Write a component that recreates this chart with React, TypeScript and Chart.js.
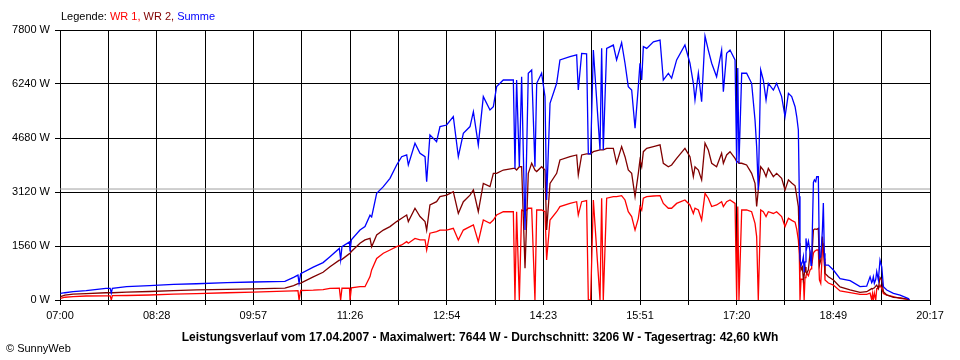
import React, { useEffect, useRef } from 'react';
import { Chart, registerables } from 'chart.js';

Chart.register(...registerables);

// Time axis: minutes after 07:00
const minutesAfterSeven = [
  0.5, 4.5, 12, 24, 42, 46, 47, 48, 61, 82, 104, 125, 153, 177, 206, 214, 218, 219, 220.5, 232, 241,
  247.3, 255.9, 257.1, 258.3, 265.2, 265.7, 266.9, 274.8, 279.4, 284.0, 285.5, 290.1, 296.2, 302.3,
  308.4, 313.0, 317.6, 319.1, 325.2, 329.8, 334.4, 335.9, 338.9, 345.0, 348.1, 354.2, 360.3, 364.9,
  369.5, 375.6, 378.7, 383.2, 387.8, 393.9, 397.0, 400.0, 406.1, 415.3, 416.8, 418.3, 420.8, 422.9,
  426.0, 429.0, 432.1, 435.1, 436.7, 441.2, 444.3, 445.8, 448.9, 455.0, 458.0, 467.2, 473.3, 474.8,
  477.9, 482.4, 484.0, 486.1, 488.6, 494.7, 496.2, 497.7, 500.8, 506.9, 509.9, 514.5, 517.6, 520.6,
  523.7, 526.8, 529.8, 531.3, 532.9, 534.4, 537.5, 543.6, 549.7, 552.7, 557.3, 560.3, 564.9, 572.5,
  577.1, 580.2, 581.7, 584.8, 587.8, 590.9, 593.9, 597.0, 601.5, 606.1, 607.7, 610.7, 613.8, 618.4,
  619.9, 620.9, 622.0, 624.5, 629.0, 633.6, 636.7, 638.2, 639.7, 641.9, 644.3, 646.8, 648.9, 653.5,
  656.5, 661.1, 664.2, 667.3, 670.3, 673.4, 674.9, 676.4, 677.3, 677.9, 678.9, 680.1, 681.0, 681.7,
  682.5, 683.4, 684.1, 685.6, 687.1, 688.0, 688.6, 690.2, 691.1, 692.3, 693.2, 694.7, 695.7, 696.9,
  698.4, 699.3, 700.2, 700.8, 703.9, 708.5, 714.6, 723.8, 732.9, 739.0, 742.1, 743.6, 744.3, 745.1,
  746.0, 747.3, 748.2, 749.7, 751.2, 752.8, 754.3, 757.4, 763.5, 769.6, 777.2, 778.1,
];

const wr1Watts = [
  50, 80, 95, 115, 120, 120, 0, 125, 130, 145, 170, 185, 210, 230, 255, 265, 270, 0, 275, 285, 300,
  335, 340, 0, 340, 345, 0, 350, 385, 385, 675, 870, 1200, 1350, 1445,
  1540, 1590, 1685, 1640, 1780, 1735, 1735, 1445, 1930, 1975, 2020, 2020, 2070, 1735,
  2020, 2120, 2170, 1685, 2310, 2215, 2310, 2455, 2550, 2550, 0, 2550, 0, 2600,
  2550, 2650, 2650, 0, 2600, 2600, 2550, 1155, 2310, 2550, 2700, 2790, 2840, 2455,
  2840, 2870, 0, 0, 2890, 0, 2940, 0, 2940, 2985, 2985, 3015, 2890, 2550,
  2410, 2020, 2360, 2700, 2600, 2940, 2985, 3005, 3015, 2790, 2650, 2650, 2790, 2890,
  2745, 2500, 2650, 2600, 2310, 3080, 2940, 2700, 2745, 2840, 2700, 2840, 2890, 2790,
  0, 2700, 0, 2600, 2600, 2550, 2215, 1830, 0, 2600, 2550, 2410, 2550, 2500,
  2550, 2410, 2120, 2360, 2300, 2250, 2050, 1730, 1300, 0, 600, 600, 600, 0,
  650, 700, 770, 700, 867, 900, 1000, 1350, 1400, 1430, 1445, 1445, 580, 480,
  1400, 1640, 1200, 578, 490, 430, 260, 210, 165, 165, 200, 0, 180, 0,
  200, 0, 330, 330, 430, 330, 190, 140, 100, 50, 20, 0,
];

const wr2Watts = [
  100, 140, 170, 185, 210, 210, 210, 210, 225, 245, 270, 290, 305, 320, 345, 414, 470, 475, 490, 670, 800,
  960, 1150, 1160, 1175, 1340, 1350, 1400, 1640, 1735, 1780, 1540, 1880, 2020, 2120,
  2265, 2360, 2455, 2265, 2650, 2410, 2265, 2020, 2745, 2840, 2985, 3030, 3130, 2500,
  2840, 3030, 3180, 2550, 3370, 3275, 3660, 3660, 3755, 3800, 3800, 3755, 3850, 3850,
  915, 3660, 3950, 3755, 3710, 3850, 3755, 2020, 3370, 3660, 4045, 4140, 4190, 3610,
  4190, 4220, 4220, 4220, 4285, 4335, 4335, 4335, 4380, 4380, 3950, 4430, 4140, 3755,
  3660, 2985, 3660, 4045, 3850, 4285, 4380, 4430, 4480, 3950, 3850, 3900, 4090, 4380,
  4140, 3565, 3850, 3755, 3470, 4530, 4335, 3950, 3850, 4240, 3950, 4190, 4285, 4090,
  4000, 4000, 3950, 3950, 3900, 3660, 3370, 2700, 3180, 3850, 3755, 3565, 3800, 3565,
  3660, 3515, 3180, 3470, 3380, 3300, 3000, 2700, 1640, 1200, 870, 950, 580, 700,
  950, 800, 770, 870, 1350, 1200, 1150, 2020, 2050, 2050, 2040, 2070, 1000, 1150,
  1830, 1500, 1100, 770, 670, 578, 380, 290, 220, 240, 300, 330, 320, 340,
  350, 400, 430, 330, 650, 580, 240, 145, 75, 60, 20, 0,
];

const summeWatts = [
  190, 210, 240, 270, 335, 335, 200, 340, 385, 415, 450, 470, 500, 520, 540, 655, 720, 490, 760, 950, 1080,
  1250, 1490, 1160, 1540, 1680, 1400, 1740, 2020, 2120, 2450, 2400, 3080, 3275, 3515,
  3900, 4140, 4190, 3900, 4530, 4240, 4140, 3420, 4770, 4575, 5010, 5055, 5300, 4140,
  4815, 5010, 5440, 4480, 5875, 5490, 5585, 6165, 6355, 6355, 3800, 6355, 3850, 6450,
  2020, 6550, 6645, 3850, 6260, 6550, 5875, 2890, 5680, 6260, 6935, 7030, 7080, 6065,
  7125, 7110, 4220, 4220, 7220, 4335, 7270, 4335, 7270, 7365, 6935, 7435, 6840, 6165,
  6065, 4960, 6165, 6840, 6355, 7320, 7270, 7460, 7510, 6355, 6550, 6405, 6935, 7365,
  6840, 6260, 5780, 6550, 5730, 7625, 7220, 6840, 6450, 7220, 6020, 7130, 7220, 6935,
  3950, 6700, 3950, 6550, 6550, 6260, 5200, 4430, 3180, 6645, 6355, 5780, 6260, 6065,
  6260, 5875, 5300, 5970, 5875, 5585, 5300, 4910, 3000, 1200, 1000, 1100, 1250, 800,
  1100, 1780, 1500, 1700, 1400, 1000, 1155, 3400, 3470, 3420, 3560, 3560, 1200, 1250,
  2000, 2800, 1350, 1010, 1010, 867, 620, 560, 385, 400, 670, 500, 550, 670,
  480, 600, 820, 580, 1155, 960, 385, 290, 190, 140, 40, 10,
];

const averageWatts = 3206;
const xAxisEndMinutes = 797; // 07:00 .. 20:17
const xTickLabels = ['07:00', '08:28', '09:57', '11:26', '12:54', '14:23', '15:51', '17:20', '18:49', '20:17'];
const yTickValues = [0, 1560, 3120, 4680, 6240, 7800];

const legendLabel = 'Legende: ';
const legendNames = ['WR 1, ', 'WR 2, ', 'Summe'];
const legendColors = ['#ff0000', '#800000', '#0000ff'];
const titleText =
  'Leistungsverlauf vom 17.04.2007 - Maximalwert: 7644 W - Durchschnitt: 3206 W - Tagesertrag: 42,60 kWh';
const creditText = '\u00A9 SunnyWeb';

const FONT_FAMILY = '"Liberation Sans", Arial, sans-serif';

const textPlugin = {
  id: 'sunnyTexts',
  afterDraw(chart: any) {
    const ctx = chart.ctx as CanvasRenderingContext2D;
    ctx.save();
    ctx.textBaseline = 'alphabetic';
    ctx.textAlign = 'left';
    ctx.font = `11px ${FONT_FAMILY}`;
    let x = 61;
    ctx.fillStyle = '#000000';
    ctx.fillText(legendLabel, x, 20);
    x += ctx.measureText(legendLabel).width;
    legendNames.forEach((name, i) => {
      ctx.fillStyle = legendColors[i];
      ctx.fillText(name, x, 20);
      x += ctx.measureText(name).width;
    });

    ctx.fillStyle = '#000000';
    ctx.font = `bold 12px ${FONT_FAMILY}`;
    ctx.textAlign = 'center';
    ctx.fillText(titleText, 480, 341);

    ctx.font = `11px ${FONT_FAMILY}`;
    ctx.textAlign = 'left';
    ctx.fillText(creditText, 6, 352);
    ctx.restore();
  },
};

export default function App() {
  const canvasRef = useRef<HTMLCanvasElement | null>(null);

  useEffect(() => {
    if (!canvasRef.current) return;
    Chart.defaults.font.family = FONT_FAMILY;
    Chart.defaults.font.size = 11;
    Chart.defaults.color = '#000000';

    const series = (values: number[]) => minutesAfterSeven.map((m, i) => ({ x: m, y: values[i] }));
    const xGrid = Array.from(
      { length: xTickLabels.length * 2 - 1 },
      (_, i) => (i * xAxisEndMinutes) / ((xTickLabels.length - 1) * 2)
    );
    const lineStyle = { borderWidth: 1.3, pointRadius: 0, tension: 0, fill: false };

    const chart = new Chart(canvasRef.current, {
      type: 'line',
      data: {
        datasets: [
          { label: 'Summe', data: series(summeWatts), borderColor: '#0000ff', order: 0, ...lineStyle },
          { label: 'WR 2', data: series(wr2Watts), borderColor: '#800000', order: 1, ...lineStyle },
          { label: 'WR 1', data: series(wr1Watts), borderColor: '#ff0000', order: 2, ...lineStyle },
          {
            label: 'Durchschnitt',
            data: [
              { x: 0, y: averageWatts },
              { x: xAxisEndMinutes, y: averageWatts },
            ],
            borderColor: '#a0a0a0',
            borderWidth: 1,
            pointRadius: 0,
            tension: 0,
            fill: false,
            order: 3,
          },
        ],
      },
      options: {
        responsive: false,
        animation: false,
        devicePixelRatio: 1,
        layout: { padding: { left: 0, right: 30, top: 30, bottom: 0 } },
        plugins: {
          legend: { display: false },
          tooltip: { enabled: false },
          title: { display: false },
        },
        events: [],
        scales: {
          x: {
            type: 'linear',
            min: 0,
            max: xAxisEndMinutes,
            afterBuildTicks: (scale: any) => {
              scale.ticks = xGrid.map((v) => ({ value: v }));
            },
            afterFit: (scale: any) => {
              scale.height = 60;
            },
            grid: { color: '#000000', lineWidth: 1, tickLength: 5, drawTicks: true },
            border: { color: '#000000', width: 1 },
            ticks: {
              autoSkip: false,
              maxRotation: 0,
              padding: 4,
              color: '#000000',
              font: { size: 11, family: FONT_FAMILY },
              callback: (_v: any, index: number) => (index % 2 === 0 ? xTickLabels[index / 2] : ''),
            },
          },
          y: {
            type: 'linear',
            min: 0,
            max: 7800,
            afterBuildTicks: (scale: any) => {
              scale.ticks = yTickValues.map((v) => ({ value: v }));
            },
            afterFit: (scale: any) => {
              scale.width = 60;
            },
            grid: { color: '#000000', lineWidth: 1, tickLength: 5, drawTicks: true },
            border: { color: '#000000', width: 1 },
            ticks: {
              padding: 5,
              color: '#000000',
              font: { size: 11, family: FONT_FAMILY },
              callback: (v: any) => `${v} W`,
            },
          },
        },
      },
      plugins: [textPlugin],
    });

    return () => {
      chart.destroy();
    };
  }, []);

  return (
    <div style={{ position: 'absolute', left: 0, top: 0, width: 960, height: 360, background: '#ffffff' }}>
      <canvas ref={canvasRef} width={960} height={360} style={{ display: 'block', width: 960, height: 360 }} />
    </div>
  );
}
